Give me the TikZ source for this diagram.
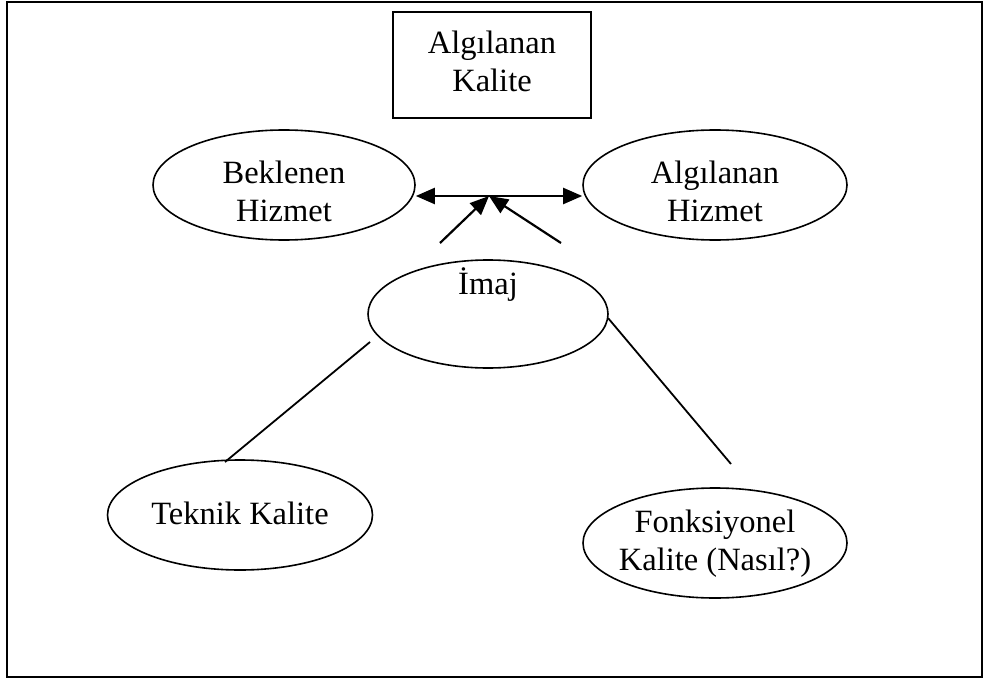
\documentclass[tikz,border=0pt]{standalone}
\usepackage{fontspec}
\setmainfont{Liberation Serif}
\usetikzlibrary{shapes.geometric,arrows.meta}
\begin{document}
\begin{tikzpicture}[x=1pt,y=-1pt,
  every node/.style={font=\fontsize{32.5}{38}\selectfont},
  oval/.style={draw,ellipse,line width=1.6pt,inner sep=0pt},
  txt/.style={align=center,inner sep=0pt},
  conn/.style={line width=1.8pt},
  tip/.tip={Triangle[length=19pt,width=16pt]},
  arr/.style={line width=2.2pt,-tip}]
\useasboundingbox (0,0) rectangle (984,679);
% outer frame
\draw[line width=2pt] (7,2) rectangle (982,677);
% top box
\node[draw,line width=1.6pt,minimum width=198pt,minimum height=106pt,inner sep=0pt] (box) at (492,65) {};
\node[txt] (boxt) at (492,61) {Algılanan\\Kalite};
% expected / perceived service
\node[oval,minimum width=262pt,minimum height=110pt] (bek) at (284,185) {};
\node[txt] (bekt) at (284,191) {Beklenen\\Hizmet};
\node[oval,minimum width=264pt,minimum height=110pt] (alg) at (715,185) {};
\node[txt] (algt) at (715,191) {Algılanan\\Hizmet};
% image
\node[oval,minimum width=240pt,minimum height=108pt] (imaj) at (488,314) {};
\node[txt] (imajt) at (488,285) {İmaj};
% technical / functional quality
\node[oval,minimum width=265pt,minimum height=110pt] (tek) at (240,515) {};
\node[txt] (tekt) at (240,513) {Teknik Kalite};
\node[oval,minimum width=264pt,minimum height=110pt] (fon) at (715,543) {};
\node[txt] (font) at (715,544) {Fonksiyonel\\Kalite (Nasıl?)};
% arrows
\coordinate (mid) at (489,196);
\coordinate (la) at (440,243);
\coordinate (ra) at (561,243);
\draw[line width=2.2pt,tip-tip] (bek.east |- mid) -- (alg.west |- mid);
\draw[arr] (la) -- (mid);
\draw[arr] (ra) -- (mid);
% connecting lines
\coordinate (l1) at (370,342);
\coordinate (l2) at (225,462);
\coordinate (r1) at (608,318);
\coordinate (r2) at (731,464);
\draw[conn] (l1) -- (l2);
\draw[conn] (r1) -- (r2);
\end{tikzpicture}
\end{document}
